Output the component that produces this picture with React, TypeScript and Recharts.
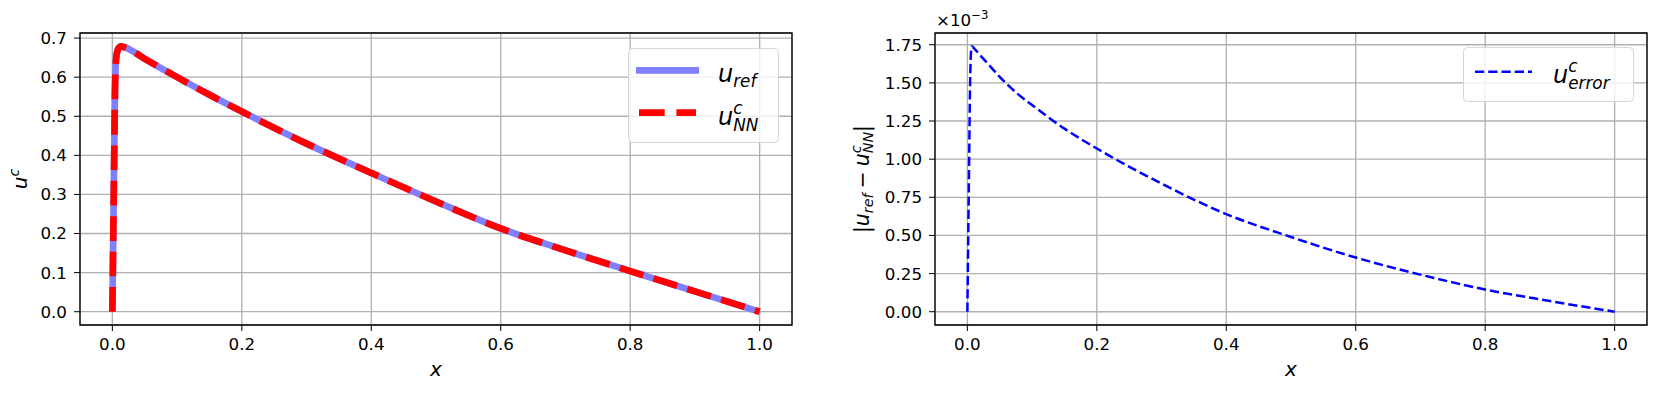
import {
  LineChart, Line, XAxis, YAxis, CartesianGrid, ReferenceArea, Legend, Label,
} from 'recharts'

// left panel: reference solution vs network prediction
const xRef = [0, 0.001, 0.002, 0.003, 0.004, 0.005, 0.006, 0.008, 0.01, 0.013, 0.02, 0.05, 0.1, 0.15, 0.2, 0.3, 0.4, 0.5, 0.6, 0.7, 0.8, 0.9, 1.0]
const uRef = [0, 0.14, 0.28, 0.42, 0.56, 0.625, 0.65, 0.668, 0.675, 0.679, 0.676, 0.647, 0.6, 0.555, 0.512, 0.43, 0.355, 0.282, 0.213, 0.157, 0.104, 0.052, 0]
const uNN = [0, 0.14, 0.28, 0.42, 0.56, 0.625, 0.65, 0.668, 0.675, 0.679, 0.676, 0.647, 0.6, 0.555, 0.512, 0.43, 0.355, 0.282, 0.213, 0.157, 0.104, 0.052, 0]

// right panel: absolute error, in units of 1e-3
const xErr = [0, 0.001, 0.002, 0.003, 0.004, 0.005, 0.006, 0.007, 0.01, 0.02, 0.036, 0.05, 0.077, 0.1, 0.15, 0.2, 0.3, 0.4, 0.5, 0.6, 0.7, 0.8, 0.9, 1.0]
const errE3 = [0, 0.36, 0.72, 1.08, 1.44, 1.64, 1.72, 1.74, 1.728, 1.68, 1.605, 1.54, 1.43, 1.355, 1.2, 1.07, 0.84, 0.64, 0.49, 0.355, 0.243, 0.1455, 0.07, 0]

const xTicks = [0, 0.2, 0.4, 0.6, 0.8, 1.0]
const uTicks = [0, 0.1, 0.2, 0.3, 0.4, 0.5, 0.6, 0.7]
const errTicks = [0, 0.25, 0.5, 0.75, 1.0, 1.25, 1.5, 1.75]

const xDomain: [number, number] = [-0.05, 1.05]
const uDomain: [number, number] = [-0.034, 0.713]
const errDomain: [number, number] = [-0.087, 1.827]

const font = 'DejaVu Sans'
const tickStyle = { fontFamily: font, fontSize: 16.7, fill: '#000' }
const gridColor = '#b0b0b0'

const refRows = xRef.map((x, i) => ({ x, uRef: uRef[i], uNN: uNN[i] }))
const errRows = xErr.map((x, i) => ({ x, err: errE3[i] }))

function XLabel(props: any) {
  const vb = props.viewBox
  return (
    <text x={vb.x + vb.width / 2} y={vb.y + 51} textAnchor="middle" fontFamily={font} fontSize={20} fontStyle="italic" fill="#000">x</text>
  )
}

function ULabel(props: any) {
  const vb = props.viewBox
  const cx = vb.x + 17
  const cy = vb.y + vb.height / 2
  return (
    <text x={cx} y={cy} transform={`rotate(-90, ${cx}, ${cy})`} textAnchor="middle" fontFamily={font} fontSize={20} fill="#000">
      <tspan fontStyle="italic">u</tspan>
      <tspan fontStyle="italic" fontSize={14} dy={-8}>c</tspan>
    </text>
  )
}

function ErrLabel(props: any) {
  const vb = props.viewBox
  const cx = vb.x + 24
  const cy = vb.y + vb.height / 2
  return (
    <text x={cx} y={cy} transform={`rotate(-90, ${cx}, ${cy})`} textAnchor="middle" fontFamily={font} fontSize={20.5} fill="#000">
      <tspan>|</tspan>
      <tspan fontStyle="italic">u</tspan>
      <tspan fontStyle="italic" fontSize={14.3} dy={4}>ref</tspan>
      <tspan dy={-4} dx={5}>−</tspan>
      <tspan fontStyle="italic" dx={5}>u</tspan>
      <tspan fontStyle="italic" fontSize={14.3} dy={-8}>c</tspan>
      <tspan fontStyle="italic" fontSize={14.3} dx={-7.9} dy={12}>NN</tspan>
      <tspan dy={-4}>|</tspan>
    </text>
  )
}

function OffsetLabel(props: any) {
  const vb = props.viewBox
  return (
    <text x={vb.x + vb.width + 1} y={vb.y - 7} fontFamily={font} fontSize={16.7} fill="#000">
      <tspan>×10</tspan>
      <tspan fontSize={11.7} dy={-7}>−3</tspan>
    </text>
  )
}

function RefLegend() {
  return (
    <svg width={152} height={96} style={{ display: 'block' }}>
      <rect x={0.5} y={0.5} width={150} height={94} rx={4} fill="#fff" fillOpacity={0.8} stroke="#d6d6d6" />
      <line x1={8} x2={71} y1={22.3} y2={22.3} stroke="#8080ff" strokeWidth={6.67} />
      <line x1={11} x2={68} y1={64.7} y2={64.7} stroke="#ff0000" strokeWidth={6.67} strokeDasharray="25.7 11.7" />
      <text x={90} y={34} fontFamily={font} fontSize={24} fontStyle="italic" fill="#000">
        <tspan>u</tspan>
        <tspan fontSize={16.8} dy={5}>ref</tspan>
      </text>
      <text x={90} y={77} fontFamily={font} fontSize={24} fontStyle="italic" fill="#000">
        <tspan>u</tspan>
        <tspan fontSize={16.8} dy={-11}>c</tspan>
        <tspan fontSize={16.8} dx={-9.2} dy={17}>NN</tspan>
      </text>
    </svg>
  )
}

function ErrLegend() {
  return (
    <svg width={172} height={56} style={{ display: 'block' }}>
      <rect x={0.5} y={0.5} width={170} height={54} rx={4} fill="#fff" fillOpacity={0.8} stroke="#d6d6d6" />
      <line x1={12} x2={69} y1={24.7} y2={24.7} stroke="#0000ff" strokeWidth={2.5} strokeDasharray="9.25 4" />
      <text x={90} y={36} fontFamily={font} fontSize={24} fontStyle="italic" fill="#000">
        <tspan>u</tspan>
        <tspan fontSize={16.8} dy={-11}>c</tspan>
        <tspan fontSize={16.8} dx={-9.2} dy={17}>error</tspan>
      </text>
    </svg>
  )
}

export default function App() {
  return (
    <div style={{ position: 'absolute', left: 0, top: 0, width: 1660, height: 395, background: '#fff' }}>
      <div style={{ position: 'absolute', left: 0, top: 0 }}>
        <LineChart width={800} height={395} data={refRows} margin={{ top: 33, right: 8, bottom: 40, left: 10 }}>
          <CartesianGrid stroke={gridColor} strokeWidth={1.33} />
          <XAxis dataKey="x" type="number" domain={xDomain} ticks={xTicks} allowDataOverflow height={30}
            tick={tickStyle} tickFormatter={(v: number) => v.toFixed(1)} tickSize={6} tickMargin={7}
            axisLine={false} stroke="#000" interval={0}>
            <Label content={XLabel} />
          </XAxis>
          <YAxis type="number" domain={uDomain} ticks={uTicks} allowDataOverflow width={70}
            tick={tickStyle} tickFormatter={(v: number) => v.toFixed(1)} tickSize={6} tickMargin={7}
            axisLine={false} stroke="#000" interval={0}>
            <Label content={ULabel} />
          </YAxis>
          <Line type="monotone" dataKey="uRef" stroke="#8080ff" strokeWidth={6.67} dot={false} isAnimationActive={false} />
          <Line type="monotone" dataKey="uNN" stroke="#ff0000" strokeWidth={6.67} strokeDasharray="24.7 10.7" dot={false} isAnimationActive={false} />
          <ReferenceArea x1={xDomain[0]} x2={xDomain[1]} y1={uDomain[0]} y2={uDomain[1]} fill="none" stroke="#000" strokeWidth={1.33} ifOverflow="visible" />
          <Legend content={RefLegend} layout="vertical" align="center" verticalAlign="middle"
            wrapperStyle={{ left: 628, top: 48, width: 152, height: 96 }} />
        </LineChart>
      </div>
      <div style={{ position: 'absolute', left: 830, top: 0 }}>
        <LineChart width={830} height={395} data={errRows} margin={{ top: 33, right: 13, bottom: 40, left: 15 }}>
          <CartesianGrid stroke={gridColor} strokeWidth={1.33} />
          <XAxis dataKey="x" type="number" domain={xDomain} ticks={xTicks} allowDataOverflow height={30}
            tick={tickStyle} tickFormatter={(v: number) => v.toFixed(1)} tickSize={6} tickMargin={7}
            axisLine={false} stroke="#000" interval={0}>
            <Label content={XLabel} />
          </XAxis>
          <YAxis type="number" domain={errDomain} ticks={errTicks} allowDataOverflow width={90}
            tick={tickStyle} tickFormatter={(v: number) => v.toFixed(2)} tickSize={6} tickMargin={7}
            axisLine={false} stroke="#000" interval={0}>
            <Label content={ErrLabel} />
            <Label content={OffsetLabel} />
          </YAxis>
          <Line type="monotone" dataKey="err" stroke="#0000ff" strokeWidth={2.5} strokeDasharray="9.25 4" dot={false} isAnimationActive={false} />
          <ReferenceArea x1={xDomain[0]} x2={xDomain[1]} y1={errDomain[0]} y2={errDomain[1]} fill="none" stroke="#000" strokeWidth={1.33} ifOverflow="visible" />
          <Legend content={ErrLegend} layout="vertical" align="center" verticalAlign="middle"
            wrapperStyle={{ left: 633, top: 47, width: 172, height: 56 }} />
        </LineChart>
      </div>
    </div>
  )
}
